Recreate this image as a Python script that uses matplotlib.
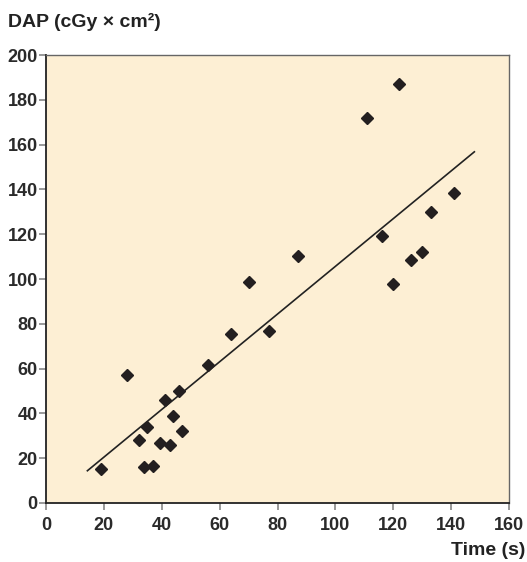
import matplotlib
matplotlib.use('Agg')
import matplotlib.pyplot as plt

# ---------- 数据 ----------
time_s = [19, 28, 32, 34, 35, 37, 39.5, 41, 43, 44, 46, 47,
          56, 64, 70, 77, 87, 111, 116, 120, 122, 126, 130, 133, 141]
dap = [15, 57, 28, 16, 34, 16.5, 27, 46, 26, 39, 50, 32,
       61.5, 75.5, 98.5, 77, 110.5, 172, 119, 98, 187, 108.5, 112, 130, 138.5]

# regression line endpoints as drawn
fit_x = [14.3, 148]
fit_y = [14.4, 156.8]

x_ticks = [0, 20, 40, 60, 80, 100, 120, 140, 160]
y_ticks = [0, 20, 40, 60, 80, 100, 120, 140, 160, 180, 200]

plt.rcParams['font.family'] = ['Liberation Sans', 'DejaVu Sans']

fig = plt.figure(figsize=(5.27, 5.62), dpi=100)
ax = fig.add_axes([0.0873, 0.105, 0.8787, 0.797])
ax.set_facecolor('#fdefd4')

ax.plot(fit_x, fit_y, color='#222222', lw=1.2, zorder=2)
ax.plot(time_s, dap, linestyle='none', marker='D', ms=6.5,
        color='#231f20', zorder=3)

ax.set_xlim(0, 160)
ax.set_ylim(0, 200)
ax.set_xticks(x_ticks)
ax.set_yticks(y_ticks)

for side in ['left', 'bottom']:
    ax.spines[side].set_color('#222222')
    ax.spines[side].set_linewidth(1.3)
for side in ['top', 'right']:
    ax.spines[side].set_color('#666666')
    ax.spines[side].set_linewidth(1.0)

ax.tick_params(axis='both', direction='out', length=5, width=1.2,
               color='#888888', labelsize=13, labelcolor='#2a2a2a')
ax.tick_params(axis='x', pad=5)
ax.tick_params(axis='y', pad=1)
for lab in ax.get_xticklabels() + ax.get_yticklabels():
    lab.set_fontweight('bold')

fig.text(0.015, 0.952, 'DAP (cGy × cm²)', fontsize=14, fontweight='bold',
         color='#222222', ha='left', va='baseline')
fig.text(0.997, 0.012, 'Time (s)', fontsize=14, fontweight='bold',
         color='#222222', ha='right', va='baseline')

plt.savefig('out.png', dpi=100)
plt.close()
